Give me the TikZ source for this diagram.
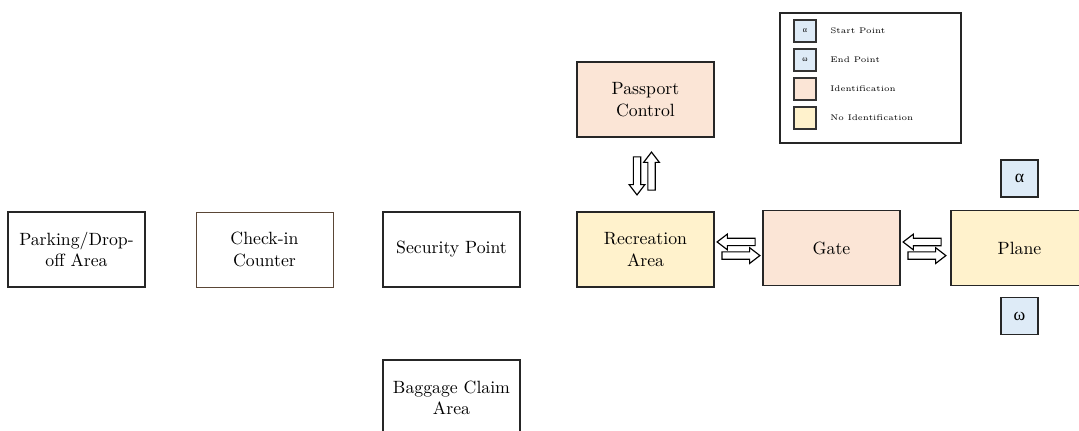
\documentclass[tikz,border=0pt]{standalone}
\usepackage{fontspec}
\newfontfamily\grk{Liberation Serif}
\usetikzlibrary{shapes.arrows,calc}
\definecolor{noid}{HTML}{FFF2CC}
\definecolor{idfill}{HTML}{FBE5D6}
\definecolor{endpt}{HTML}{DEEBF7}
\definecolor{thinbrown}{HTML}{5A4636}
\tikzset{
  area/.style={draw=black!85, line width=1pt, minimum width=77.2pt, minimum height=42.3pt,
    align=center, text width=72pt, inner sep=0pt, font=\normalsize},
  noidarea/.style={area, fill=noid},
  idarea/.style={area, fill=idfill},
  endbox/.style={draw=black!85, line width=1pt, fill=endpt, minimum width=20.9pt, minimum height=20.9pt, inner sep=0pt, font=\grk\normalsize},
  keybox/.style={draw=black!80, line width=0.6pt, minimum width=12.4pt, minimum height=12.4pt, inner sep=0pt, font=\grk\fontsize{4.5}{5}\selectfont},
  keytext/.style={anchor=west, inner sep=0pt, font=\fontsize{4.6}{5.5}\selectfont},
  flow/.style={single arrow, draw=black, line width=0.65pt, fill=white, minimum height=21.4pt,
    minimum width=8.2pt, inner sep=1.75pt, single arrow head extend=2.35pt,
    single arrow tip angle=75, single arrow head indent=0pt},
}
\begin{document}
\begin{tikzpicture}[x=0.5636pt, y=-0.5636pt]
\useasboundingbox (0,0) rectangle (1079,431);

% main route through the terminal
\node[area] (park) at (76.5,249.5) {Parking/Drop-\\off Area};
\node[area, draw=thinbrown, line width=0.5pt] (checkin) at (264.5,249.5) {Check-in\\Counter};
\node[area] (security) at (451.5,249.5) {Security Point};
\node[noidarea] (rec) at (645.5,249.5) {Recreation\\Area};
\node[idarea] (gate) at (831.5,248) {Gate};
\node[noidarea] (plane) at (1019.5,248) {Plane};
\node[idarea] (passport) at (645.5,99.5) {Passport\\Control};
\node[area] (baggage) at (451.5,397.5) {Baggage Claim\\Area};

% start and end markers
\node[endbox] (start) at (1019.5,178.5) {α};
\node[endbox] (finish) at (1019.5,316) {ω};

% two-way movement between areas
\path ($(passport.south)!0.5!(rec.north)$) coordinate (pr);
\node[flow, shape border rotate=270] (pr1) at ($(pr)+(-8.5,-1)$) {};
\node[flow, shape border rotate=90] (pr2) at ($(pr)+(6,-1)$) {};
\path ($(rec.east)!0.5!(gate.west)$) coordinate (rg);
\node[flow, shape border rotate=180] (rg1) at ($(rg)+(0,-6.8)$) {};
\node[flow] (rg2) at ($(rg)+(0,6.8)$) {};
\path ($(gate.east)!0.5!(plane.west)$) coordinate (gp);
\node[flow, shape border rotate=180] (gp1) at ($(gp)+(-1,-6)$) {};
\node[flow] (gp2) at ($(gp)+(-1,7.6)$) {};

% key
\node[draw=black!85, line width=0.7pt, minimum width=102pt, minimum height=73.3pt, inner sep=0pt] (key) at (870.5,78) {};
\node[keybox, fill=endpt] (k1) at (805,31) {α};
\node[keybox, fill=endpt] (k2) at (805,60) {ω};
\node[keybox, fill=idfill] (k3) at (805,89) {};
\node[keybox, fill=noid] (k4) at (805,118) {};
\node[keytext] (t1) at (830,31) {Start Point};
\node[keytext] (t2) at (830,60) {End Point};
\node[keytext] (t3) at (830,89) {Identification};
\node[keytext] (t4) at (830,118) {No Identification};
\end{tikzpicture}
\end{document}
